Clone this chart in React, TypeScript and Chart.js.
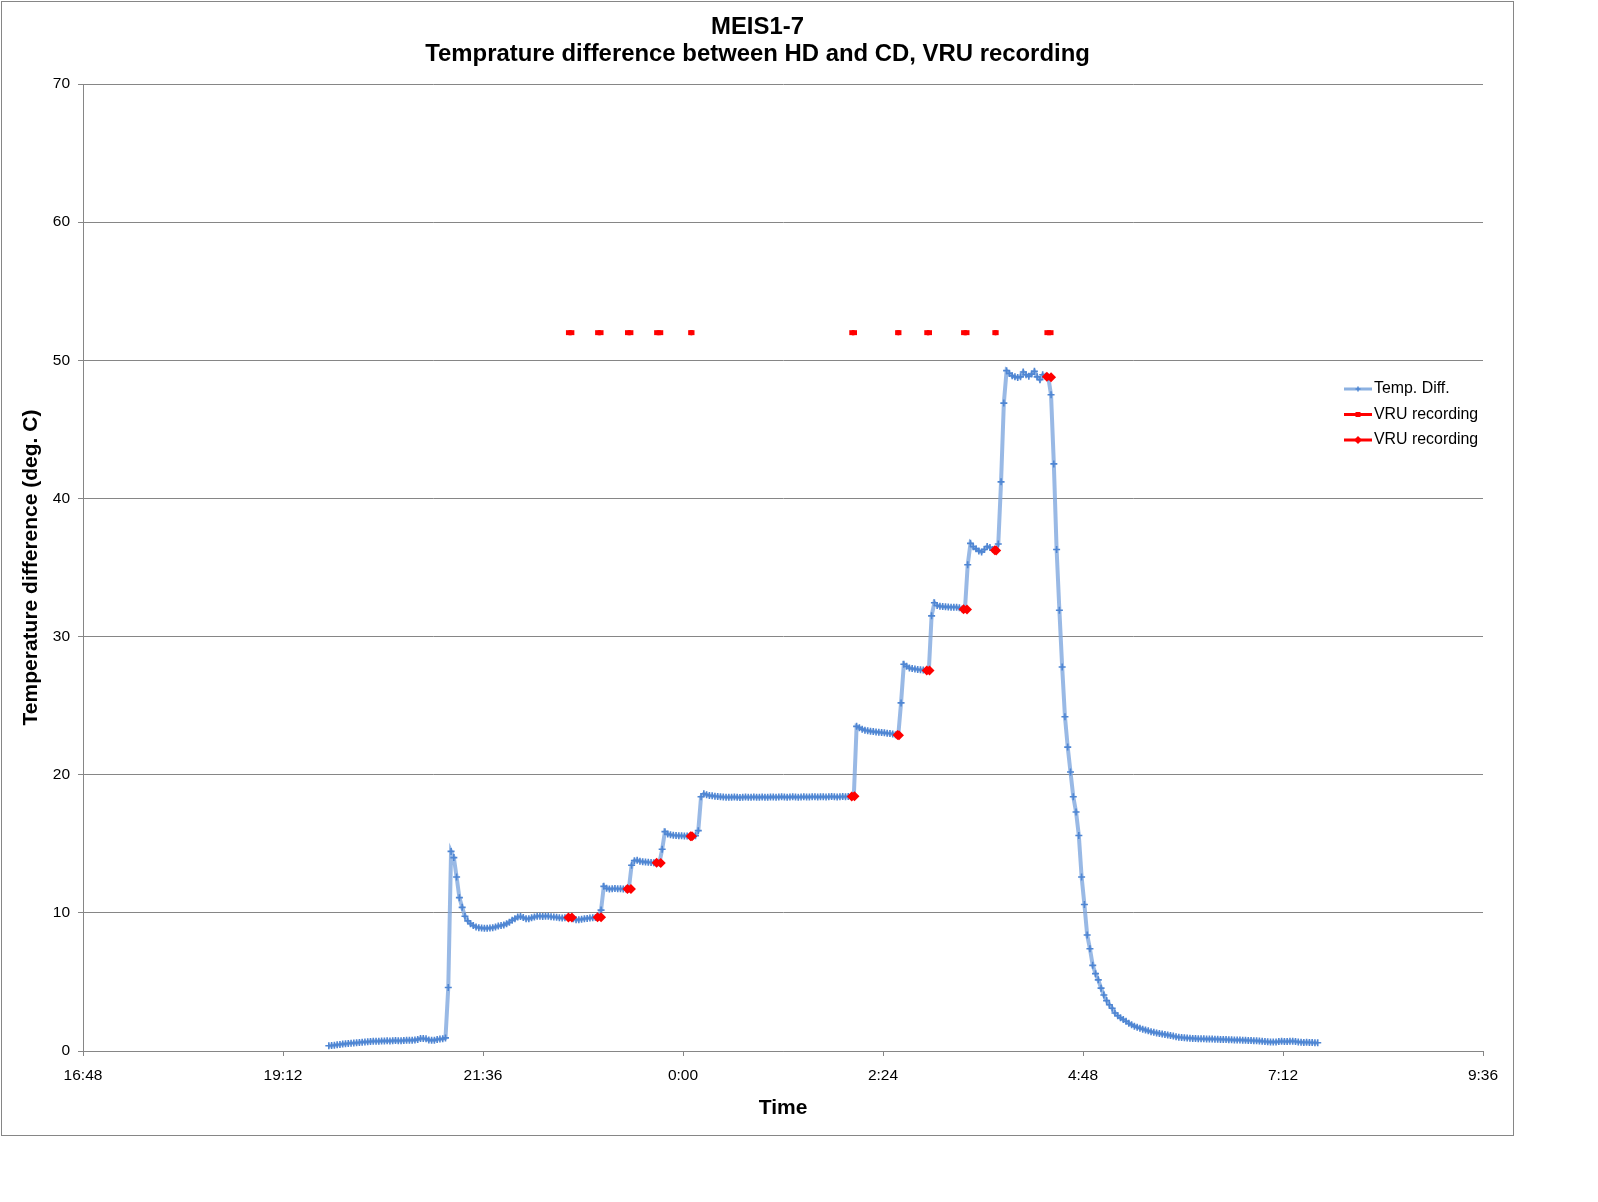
import { useEffect, useRef } from 'react';
import { Chart, registerables } from 'chart.js';

Chart.register(...registerables);

const FONT = "'Liberation Sans', Arial, sans-serif";

// x values are minutes after midnight of the first evening (> 1440 = next morning)
const axisStart = 1008; // 16:48
const axisEnd = 2016; // 9:36
const axisStep = 144; // 2:24

const titleLines = ['MEIS1-7', 'Temprature difference between HD and CD, VRU recording'];

// temperature difference samples, one every 2 minutes from 19:45
const tempStart = 1185;
const tempStep = 2;
const tempDiff = [
  0.38, 0.40, 0.42, 0.45, 0.47, 0.50, 0.52, 0.54, 0.57, 0.58,
  0.60, 0.62, 0.64, 0.66, 0.67, 0.69, 0.70, 0.71, 0.70, 0.72,
  0.73, 0.74, 0.73, 0.75, 0.76, 0.74, 0.75, 0.76, 0.77, 0.78,
  0.77, 0.79, 0.84, 0.90, 0.91, 0.88, 0.80, 0.77, 0.78, 0.83,
  0.86, 0.88, 0.95, 4.6, 14.45, 14.0, 12.6, 11.1, 10.4, 9.75,
  9.42, 9.22, 9.08, 8.98, 8.93, 8.90, 8.88, 8.88, 8.90, 8.93,
  8.98, 9.04, 9.08, 9.13, 9.22, 9.32, 9.47, 9.58, 9.70, 9.74,
  9.66, 9.57, 9.58, 9.64, 9.70, 9.75, 9.76, 9.74, 9.76, 9.75,
  9.72, 9.70, 9.68, 9.64, 9.63, 9.65, 9.66, 9.67, 9.58, 9.51,
  9.51, 9.54, 9.57, 9.60, 9.62, 9.65, 9.67, 9.68, 10.2, 11.92,
  11.78, 11.73, 11.74, 11.76, 11.75, 11.74, 11.73, 11.72, 11.73, 13.45,
  13.78, 13.80, 13.74, 13.70, 13.68, 13.66, 13.65, 13.63, 13.62, 13.61,
  14.6, 15.88, 15.70, 15.65, 15.62, 15.60, 15.59, 15.58, 15.57, 15.56,
  15.54, 15.55, 15.58, 15.95, 18.40, 18.62, 18.55, 18.50, 18.47, 18.44,
  18.42, 18.40, 18.38, 18.37, 18.36, 18.37, 18.38, 18.36, 18.35, 18.37,
  18.38, 18.36, 18.37, 18.38, 18.37, 18.36, 18.38, 18.37, 18.36, 18.38,
  18.39, 18.37, 18.38, 18.40, 18.38, 18.37, 18.39, 18.40, 18.38, 18.37,
  18.39, 18.40, 18.38, 18.39, 18.41, 18.40, 18.38, 18.40, 18.41, 18.39,
  18.40, 18.42, 18.40, 18.39, 18.41, 18.42, 18.40, 18.42, 18.43, 18.47,
  23.5, 23.40, 23.30, 23.22, 23.18, 23.15, 23.12, 23.10, 23.07, 23.05,
  23.03, 23.00, 22.98, 22.95, 22.90, 22.86, 25.2, 28.00, 27.85, 27.73,
  27.68, 27.65, 27.62, 27.60, 27.58, 27.55, 27.54, 31.5, 32.45, 32.25,
  32.20, 32.17, 32.15, 32.14, 32.13, 32.13, 32.12, 32.08, 32.00, 31.96,
  35.2, 36.75, 36.50, 36.35, 36.20, 36.13, 36.30, 36.52, 36.45, 36.30,
  36.23, 36.70, 41.2, 46.9, 49.25, 49.05, 48.88, 48.80, 48.75, 48.80,
  49.15, 48.95, 48.85, 49.00, 49.20, 48.80, 48.60, 48.95, 48.85, 48.78,
  47.5, 42.5, 36.3, 31.9, 27.8, 24.2, 22.0, 20.2, 18.4, 17.3,
  15.6, 12.6, 10.6, 8.4, 7.4, 6.2, 5.6, 5.15, 4.55, 4.05,
  3.65, 3.35, 3.1, 2.75, 2.55, 2.4, 2.28, 2.15, 2.0, 1.9,
  1.8, 1.72, 1.65, 1.58, 1.52, 1.46, 1.4, 1.35, 1.31, 1.27,
  1.23, 1.2, 1.16, 1.12, 1.08, 1.03, 1.0, 0.98, 0.96, 0.94,
  0.93, 0.91, 0.90, 0.89, 0.88, 0.88, 0.87, 0.86, 0.86, 0.85,
  0.85, 0.84, 0.83, 0.83, 0.82, 0.81, 0.80, 0.80, 0.79, 0.78,
  0.77, 0.76, 0.76, 0.75, 0.74, 0.72, 0.70, 0.69, 0.67, 0.66,
  0.65, 0.66, 0.68, 0.70, 0.69, 0.68, 0.70, 0.71, 0.69, 0.66,
  0.64, 0.62, 0.63, 0.62, 0.61, 0.60, 0.60,
];

// VRU recordings: start / end (minutes) and the temperature difference at those moments
const recStart = [1357.5, 1378.5, 1400, 1421, 1445.5, 1561.5, 1594.5, 1615.5, 1642, 1664.5, 1702];
const recEnd = [1360, 1381, 1402.5, 1424, 1446.5, 1563.5, 1595.5, 1617.5, 1644.5, 1665.5, 1705];
const recStartTemp = [9.66, 9.68, 11.73, 13.62, 15.55, 18.43, 22.87, 27.55, 31.98, 36.24, 48.8];
const recEndTemp = [9.66, 9.68, 11.73, 13.61, 15.54, 18.45, 22.86, 27.54, 31.96, 36.23, 48.78];
const vruMarkerLevel = 52;

const clock = (v: number) => {
  const m = ((Math.round(v) % 1440) + 1440) % 1440;
  return `${Math.floor(m / 60)}:${String(m % 60).padStart(2, '0')}`;
};

const GRID = '#868686';
const RED = '#FF0000';

// chart title centred over the whole chart box (not just the plot)
const chartTitle = {
  id: 'chartTitle',
  afterDraw(chart: any) {
    const ctx = chart.ctx;
    ctx.save();
    ctx.font = `bold 23.9px ${FONT}`;
    ctx.textAlign = 'center';
    ctx.textBaseline = 'middle';
    ctx.fillStyle = '#000';
    titleLines.forEach((t, i) => ctx.fillText(t, chart.width / 2, 25 + i * 27.5));
    ctx.restore();
  },
};

// legend drawn inside the plot, right side below the 50 line
const insideLegend = {
  id: 'insideLegend',
  afterDraw(chart: any) {
    const ctx = chart.ctx;
    const x0 = 1342;
    const y0 = 387;
    const gap = 25.5;
    const len = 28;
    ctx.save();
    ctx.font = `15.9px ${FONT}`;
    ctx.textBaseline = 'middle';
    chart.data.datasets.forEach((ds: any, i: number) => {
      const y = y0 + i * gap;
      ctx.strokeStyle = ds.legendLine;
      ctx.lineWidth = 3;
      ctx.beginPath();
      ctx.moveTo(x0, y);
      ctx.lineTo(x0 + len, y);
      ctx.stroke();
      const cx = x0 + len / 2;
      if (ds.pointStyle === 'cross') {
        ctx.strokeStyle = ds.pointBorderColor;
        ctx.lineWidth = 1.5;
        ctx.beginPath();
        ctx.moveTo(cx - 2.5, y);
        ctx.lineTo(cx + 2.5, y);
        ctx.moveTo(cx, y - 2.5);
        ctx.lineTo(cx, y + 2.5);
        ctx.stroke();
      } else if (ds.pointStyle === 'rect') {
        ctx.fillStyle = RED;
        ctx.fillRect(cx - 2.5, y - 2.5, 5, 5);
      } else {
        ctx.fillStyle = RED;
        ctx.beginPath();
        ctx.moveTo(cx - 4, y);
        ctx.lineTo(cx, y - 4);
        ctx.lineTo(cx + 4, y);
        ctx.lineTo(cx, y + 4);
        ctx.closePath();
        ctx.fill();
      }
      ctx.fillStyle = '#000';
      ctx.fillText(ds.label, x0 + len + 2, y);
    });
    ctx.restore();
  },
};

export default function App() {
  const canvasRef = useRef<HTMLCanvasElement>(null);

  useEffect(() => {
    if (!canvasRef.current) return;

    const tempPoints = tempDiff.map((v, i) => ({ x: tempStart + i * tempStep, y: v }));
    const dashPoints = recStart.flatMap((s, i) => [
      { x: s, y: vruMarkerLevel },
      { x: recEnd[i], y: vruMarkerLevel },
      { x: recEnd[i], y: null },
    ]);
    const curvePoints = recStart.flatMap((s, i) => [
      { x: s, y: recStartTemp[i] },
      { x: recEnd[i], y: recEndTemp[i] },
      { x: recEnd[i], y: null },
    ]);

    const tickFont = { family: FONT, size: 15.5 };
    const axisTitleFont = { family: FONT, size: 21, weight: 'bold' as const, lineHeight: 1.2 };

    const chart = new Chart(canvasRef.current, {
      type: 'line',
      data: {
        datasets: [
          {
            label: 'Temp. Diff.',
            data: tempPoints,
            borderColor: 'rgba(128,168,222,0.8)',
            borderWidth: 4,
            pointStyle: 'cross',
            pointRadius: 3.5,
            pointBorderWidth: 1.6,
            pointBorderColor: '#4F86D3',
            pointBackgroundColor: '#4F86D3',
            tension: 0,
            order: 2,
            legendLine: 'rgba(128,168,222,0.9)',
          } as any,
          {
            label: 'VRU recording',
            data: dashPoints,
            borderColor: RED,
            backgroundColor: RED,
            borderWidth: 5,
            borderCapStyle: 'butt',
            pointStyle: 'rect',
            pointRadius: 3.5,
            pointBorderWidth: 0,
            pointBackgroundColor: RED,
            spanGaps: false,
            order: 1,
            legendLine: RED,
          } as any,
          {
            label: 'VRU recording',
            data: curvePoints,
            borderColor: RED,
            backgroundColor: RED,
            borderWidth: 3,
            pointStyle: 'rectRot',
            pointRadius: 5,
            pointBorderWidth: 0,
            pointBackgroundColor: RED,
            spanGaps: false,
            order: 0,
            legendLine: RED,
          } as any,
        ],
      },
      options: {
        responsive: false,
        animation: false,
        events: [],
        layout: { padding: { left: 0, right: 30, top: 82, bottom: 0 } },
        plugins: {
          legend: { display: false },
          tooltip: { enabled: false },
          title: { display: false },
        },
        scales: {
          x: {
            type: 'linear',
            min: axisStart,
            max: axisEnd,
            afterFit: (s: any) => {
              s.height = 84;
            },
            ticks: {
              stepSize: axisStep,
              autoSkip: false,
              maxRotation: 0,
              color: '#000',
              font: tickFont,
              padding: 10,
              callback: (v: any) => clock(Number(v)),
            },
            grid: { drawOnChartArea: false, drawTicks: true, tickLength: 5, color: GRID },
            border: { color: GRID },
            title: { display: true, text: 'Time', color: '#000', font: axisTitleFont, padding: { top: 0, bottom: 14.4 } },
          },
          y: {
            min: 0,
            max: 70,
            afterFit: (s: any) => {
              s.width = 81;
            },
            ticks: { stepSize: 10, color: '#000', font: tickFont, padding: 8 },
            grid: { color: GRID, tickLength: 5 },
            border: { color: GRID },
            title: {
              display: true,
              text: 'Temperature difference (deg. C)',
              color: '#000',
              font: axisTitleFont,
              padding: { top: 16.4, bottom: 0 },
            },
          },
        },
      },
      plugins: [chartTitle, insideLegend],
    });

    return () => chart.destroy();
  }, []);

  return (
    <div
      style={{
        position: 'absolute',
        left: 1,
        top: 1,
        width: 1513,
        height: 1135,
        border: `1px solid ${GRID}`,
        boxSizing: 'border-box',
        background: '#fff',
      }}
    >
      <canvas ref={canvasRef} width={1511} height={1133} style={{ display: 'block' }} />
    </div>
  );
}
